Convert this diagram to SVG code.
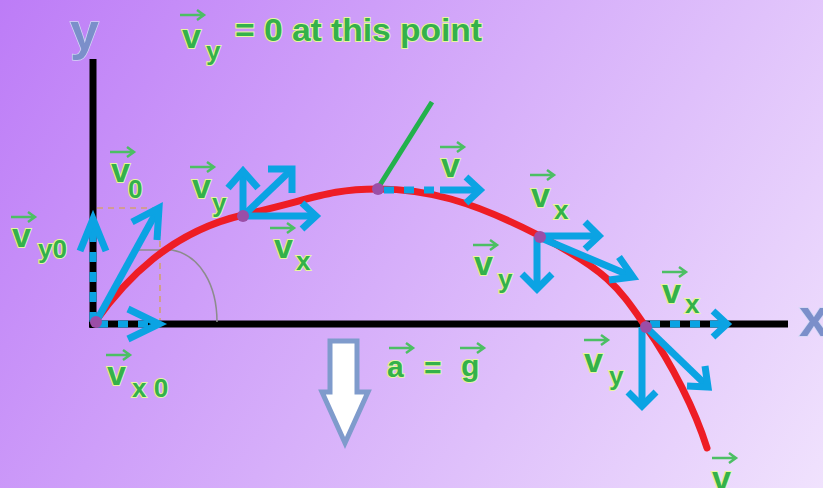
<svg xmlns="http://www.w3.org/2000/svg" xmlns:xlink="http://www.w3.org/1999/xlink" width="823" height="488" viewBox="0 0 823 488">
<defs>
<linearGradient id="bg" gradientUnits="userSpaceOnUse" x1="0" y1="0" x2="954" y2="597">
<stop offset="0" stop-color="#bd7cf7"/>
<stop offset="0.85" stop-color="#f0e2fd"/>
<stop offset="1" stop-color="#f4eafd"/>
</linearGradient>
<path id="va" d="M0,0 H24 M17,-5 L24,0 L17,5"/>
<style>
.ax{stroke:#000;stroke-width:7;fill:none}
.ax-lbl{font-family:"Liberation Sans",Arial,sans-serif;font-weight:bold;fill:#7b8fca;stroke:#d2d8f4;stroke-width:1.5;paint-order:stroke}
.traj{stroke:#ee1d25;stroke-width:7;fill:none;stroke-linecap:round}
.b{stroke:#0ba3e3;stroke-width:7;fill:none;stroke-linejoin:miter;stroke-miterlimit:8}
.bd{stroke:#0ba3e3;stroke-width:7;fill:none;stroke-dasharray:10 10}
.dot{fill:#9b4ea7}
.guide{stroke:#d3a071;stroke-width:1.6;fill:none;stroke-dasharray:6 5}
.arc{stroke:#8c8c8c;stroke-width:1.5;fill:none}
.lbl{font-family:"Liberation Sans",Arial,sans-serif;font-weight:bold;fill:#34b14a;stroke:#e8f6a0;stroke-width:2;paint-order:stroke}
.v{font-size:34px}
.s{font-size:26px}
.vec{stroke:#4cbf64;stroke-width:2.5;fill:none}
.grav{fill:#ffffff;stroke:#7f9bcc;stroke-width:5;stroke-linejoin:miter}
.green{stroke:#22b14c;stroke-width:5;fill:none}
</style>
</defs>
<rect width="823" height="488" fill="url(#bg)"/>

<g id="axes">
<line class="ax" x1="93" y1="59" x2="93" y2="328"/>
<line class="ax" x1="89" y1="324" x2="788" y2="324"/>
<text class="ax-lbl" x="70" y="49" font-size="52">y</text>
<text class="ax-lbl" x="799" y="336" font-size="54">x</text>
</g>

<g id="construction">
<line class="guide" x1="97" y1="208" x2="160" y2="208"/>
<line class="guide" x1="160" y1="208" x2="160" y2="320"/>
<path class="arc" d="M138,250 H172 C200,255 217,285 217,322"/>
</g>

<g id="trajectory">
<path class="traj" d="M95,322 C125,280 170,232 243,215 S330,189 378,189 S470,200 540,236 S620,290 646,327 S695,410 707,448"/>
</g>

<g id="gravity">
<path class="grav" d="M330,341 H357 V392 H368 L345,443 L322,392 H330 Z"/>
</g>

<g id="connectors">
<!-- origin -->
<line class="bd" x1="93" y1="322" x2="93" y2="236"/>
<line class="b" x1="93" y1="238" x2="93" y2="222"/>
<polyline class="b" points="80,251 93,219 106,251"/>
<line class="bd" x1="98" y1="324" x2="150" y2="324"/>
<polyline class="b" points="128,309 159,324 128,339"/>
<line class="b" x1="97" y1="320" x2="157" y2="211"/>
<polyline class="b" points="132,222 159,208 157,240"/>
<!-- point 1 -->
<line class="b" x1="243" y1="216" x2="243" y2="174"/>
<polyline class="b" points="228,188 243,171 258,188"/>
<line class="b" x1="243" y1="216" x2="290" y2="171"/>
<polyline class="b" points="268,169 292,169 292,193"/>
<line class="b" x1="243" y1="216" x2="314" y2="216"/>
<polyline class="b" points="302,203 316,216 302,229"/>
<!-- apex -->
<line class="green" x1="378" y1="188" x2="432" y2="102"/>
<line class="bd" x1="384" y1="190" x2="440" y2="190"/>
<line class="b" x1="440" y1="190" x2="478" y2="190"/>
<polyline class="b" points="466,177 480,190 466,203"/>
<!-- point 3 -->
<line class="b" x1="540" y1="236" x2="597" y2="236"/>
<polyline class="b" points="585,222 599,236 585,249"/>
<line class="b" x1="537" y1="237" x2="537" y2="286"/>
<polyline class="b" points="522,274 537,289 552,274"/>
<line class="b" x1="541" y1="238" x2="631" y2="276"/>
<polyline class="b" points="609,280 633,277 619,257"/>
<!-- point 4 -->
<line class="bd" x1="650" y1="324" x2="712" y2="324"/>
<line class="b" x1="712" y1="324" x2="725" y2="324"/>
<polyline class="b" points="713,311 727,324 713,337"/>
<line class="b" x1="642" y1="327" x2="642" y2="404"/>
<polyline class="b" points="628,392 642,406 656,392"/>
<line class="b" x1="648" y1="329" x2="706" y2="385"/>
<polyline class="b" points="687,386 708,387 705,366"/>
</g>

<g id="points">
<circle class="dot" cx="96" cy="322" r="6"/>
<circle class="dot" cx="243" cy="216" r="6"/>
<circle class="dot" cx="378" cy="189" r="6"/>
<circle class="dot" cx="540" cy="237" r="6"/>
<circle class="dot" cx="646" cy="327" r="6"/>
</g>

<g id="labels">
<g id="lbl-top">
<use href="#va" class="vec" x="180" y="15"/>
<text class="lbl v" x="182" y="48">v</text>
<text class="lbl s" x="206" y="60">y</text>
<text class="lbl" x="235" y="41" font-size="32" textLength="247" lengthAdjust="spacingAndGlyphs">= 0 at this point</text>
</g>
<g id="lbl-v0">
<use href="#va" class="vec" x="110" y="152"/>
<text class="lbl v" x="111" y="182">v</text>
<text class="lbl s" x="128" y="198">0</text>
</g>
<g id="lbl-vy0">
<use href="#va" class="vec" x="11" y="217"/>
<text class="lbl v" x="12" y="247">v</text>
<text class="lbl s" x="38" y="258">y0</text>
</g>
<g id="lbl-vx0">
<use href="#va" class="vec" x="106" y="355"/>
<text class="lbl v" x="107" y="385">v</text>
<text class="lbl s" x="132" y="397">x 0</text>
</g>
<g id="lbl-p1-vy">
<use href="#va" class="vec" x="190" y="167"/>
<text class="lbl v" x="192" y="198">v</text>
<text class="lbl s" x="212" y="212">y</text>
</g>
<g id="lbl-p1-vx">
<use href="#va" class="vec" x="270" y="228"/>
<text class="lbl v" x="274" y="258">v</text>
<text class="lbl s" x="296" y="270">x</text>
</g>
<g id="lbl-apex-v">
<use href="#va" class="vec" x="440" y="147"/>
<text class="lbl v" x="441" y="177">v</text>
</g>
<g id="lbl-p3-vx">
<use href="#va" class="vec" x="530" y="175"/>
<text class="lbl v" x="531" y="207">v</text>
<text class="lbl s" x="554" y="219">x</text>
</g>
<g id="lbl-p3-vy">
<use href="#va" class="vec" x="473" y="245"/>
<text class="lbl v" x="474" y="275">v</text>
<text class="lbl s" x="498" y="288">y</text>
</g>
<g id="lbl-p4-vx">
<use href="#va" class="vec" x="662" y="272"/>
<text class="lbl v" x="662" y="303">v</text>
<text class="lbl s" x="685" y="313">x</text>
</g>
<g id="lbl-p4-vy">
<use href="#va" class="vec" x="584" y="340"/>
<text class="lbl v" x="584" y="372">v</text>
<text class="lbl s" x="609" y="385">y</text>
</g>
<g id="lbl-end-v">
<use href="#va" class="vec" x="712" y="458"/>
<text class="lbl v" x="712" y="490">v</text>
</g>
<g id="lbl-ag">
<use href="#va" class="vec" x="389" y="348"/>
<text class="lbl" x="387" y="377" font-size="30">a</text>
<text class="lbl" x="424" y="378" font-size="30">=</text>
<use href="#va" class="vec" x="460" y="348"/>
<text class="lbl" x="461" y="376" font-size="30">g</text>
</g>
</g>
</svg>
